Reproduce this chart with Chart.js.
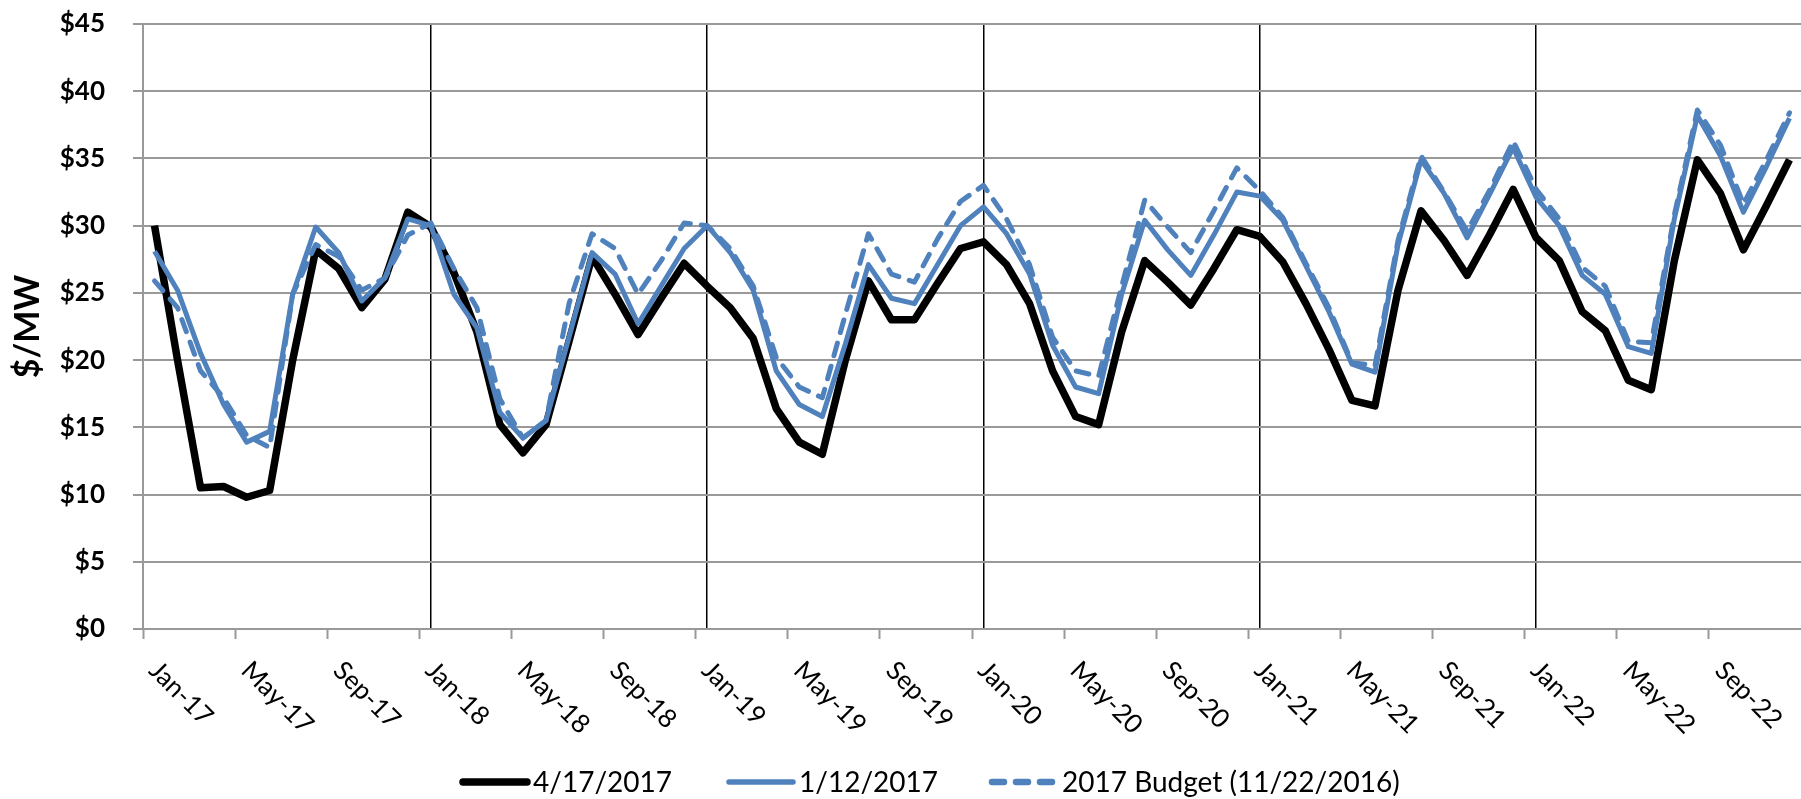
<!DOCTYPE html>
<html>
<head>
<meta charset="utf-8">
<script src="https://cdn.jsdelivr.net/npm/chart.js@4/dist/chart.umd.min.js"></script>
<style>
html,body{margin:0;padding:0;background:#fff;overflow:hidden}
canvas{display:block}
</style>
</head>
<body>
<canvas id="c" width="1801" height="799"></canvas>
<script>
// ---- data ----
const monthNames = ['Jan','Feb','Mar','Apr','May','Jun','Jul','Aug','Sep','Oct','Nov','Dec'];
const yearLabels = ['17','18','19','20','21','22'];
const categories = [];
yearLabels.forEach(y => monthNames.forEach(m => categories.push(m + '-' + y)));
const labelEvery = 4;
const yTicks = [0,5,10,15,20,25,30,35,40,45];
const seriesNames = ['4/17/2017','1/12/2017','2017 Budget (11/22/2016)'];

const price_2017_04_17 = [
  30.0,20.0,10.5,10.6, 9.8,10.3,20.0,28.2,26.8,23.9,26.0,31.0,
  29.9,26.5,22.1,15.2,13.1,15.2,21.4,27.7,24.9,21.9,24.6,27.2,
  25.5,23.9,21.6,16.4,13.9,13.0,20.0,25.9,23.0,23.0,25.7,28.3,
  28.8,27.1,24.2,19.2,15.8,15.2,22.1,27.4,25.8,24.1,26.8,29.7,
  29.2,27.3,24.2,20.8,17.0,16.6,25.2,31.1,28.9,26.3,29.4,32.7,
  29.1,27.4,23.6,22.2,18.5,17.8,27.4,34.9,32.4,28.2,31.5,34.9
];
const price_2017_01_12 = [
  28.1,25.2,20.5,16.7,13.9,14.7,24.9,29.9,28.0,24.4,26.1,30.5,
  30.0,24.9,22.4,16.1,14.2,15.5,21.7,28.0,26.4,22.7,25.5,28.3,
  30.0,28.0,25.2,19.2,16.7,15.8,21.2,27.1,24.6,24.2,27.1,30.0,
  31.4,29.4,26.4,21.1,18.0,17.5,24.9,30.4,28.2,26.3,29.3,32.5,
  32.2,30.4,27.0,23.6,19.7,19.1,28.6,34.9,32.4,29.1,32.4,35.8,
  32.1,30.0,26.3,24.9,21.0,20.5,30.5,38.2,35.2,31.0,34.4,38.0
];
const price_budget_2016_11_22 = [
  25.9,23.9,19.2,17.2,14.4,13.5,24.9,28.6,27.7,25.2,26.1,29.3,
  30.2,26.8,23.9,17.1,14.2,15.5,24.2,29.4,28.3,24.9,27.4,30.2,
  30.0,28.3,25.5,20.2,18.0,17.2,23.4,29.4,26.4,25.8,29.0,31.8,
  33.0,30.5,27.1,21.7,19.2,18.8,25.5,31.9,29.9,28.0,31.1,34.3,
  32.6,30.6,27.2,23.9,19.8,19.6,28.9,35.2,32.5,29.6,32.7,36.3,
  32.7,30.5,26.9,25.5,21.4,21.3,30.8,38.6,36.0,31.6,34.9,38.4
];

// ---- styles ----
const FONT = 'Lato';
const BLACK = '#000000';
const BLUE = '#4F81BD';
const GRID = '#999999';

const legendPos = [460, 726, 989];
const legendWidths = [7.5, 5.5, 6.5];

const xLabelPlugin = {
  id: 'xLabels',
  afterDraw(chart) {
    const xs = chart.scales.x;
    const ctx = chart.ctx;
    ctx.save();
    ctx.font = '26px ' + FONT;
    ctx.fillStyle = '#000';
    ctx.textAlign = 'left';
    ctx.textBaseline = 'middle';
    categories.forEach((lab, i) => {
      if (i % labelEvery !== 0) return;
      const px = xs.getPixelForValue(i);
      ctx.save();
      ctx.translate(px - 1, xs.top + 37);
      ctx.rotate(Math.PI / 4);
      ctx.fillText(lab, 0, 0);
      ctx.restore();
    });
    ctx.restore();
  }
};

const legendPlugin = {
  id: 'bottomLegend',
  afterDraw(chart) {
    const ctx = chart.ctx;
    const y = 782;
    chart.data.datasets.forEach((ds, i) => {
      const x0 = legendPos[i];
      ctx.save();
      ctx.strokeStyle = ds.borderColor;
      ctx.lineWidth = legendWidths[i];
      ctx.lineCap = 'round';
      ctx.setLineDash(ds.borderDash && ds.borderDash.length ? [12, 12] : []);
      ctx.beginPath();
      ctx.moveTo(x0 + 3, y);
      ctx.lineTo(x0 + 67, y);
      ctx.stroke();
      ctx.setLineDash([]);
      ctx.font = '28px ' + FONT;
      ctx.fillStyle = '#000';
      ctx.textAlign = 'left';
      ctx.textBaseline = 'alphabetic';
      ctx.fillText(ds.label, x0 + 73, 792);
      ctx.restore();
    });
  }
};

new Chart(document.getElementById('c'), {
  type: 'line',
  data: {
    labels: categories,
    datasets: [
      { label: seriesNames[0], data: price_2017_04_17, borderColor: BLACK, backgroundColor: BLACK,
        borderWidth: 7.5, order: 3 },
      { label: seriesNames[1], data: price_2017_01_12, borderColor: BLUE, backgroundColor: BLUE,
        borderWidth: 5, order: 2 },
      { label: seriesNames[2], data: price_budget_2016_11_22, borderColor: BLUE, backgroundColor: BLUE,
        borderWidth: 5, borderDash: [13, 11], borderCapStyle: 'round', order: 1 }
    ]
  },
  options: {
    responsive: false,
    animation: false,
    devicePixelRatio: 1,
    layout: { padding: { top: 24, left: 0, right: 0, bottom: 0 } },
    elements: {
      point: { radius: 0, hoverRadius: 0 },
      line: { tension: 0, borderJoinStyle: 'round', fill: false }
    },
    plugins: { legend: { display: false }, tooltip: { enabled: false } },
    scales: {
      x: {
        type: 'category',
        offset: true,
        grid: {
          offset: true,
          drawOnChartArea: false,
          drawTicks: true,
          tickLength: 10,
          tickWidth: 2,
          tickColor: c => (c.index % labelEvery === 0 ? GRID : 'rgba(0,0,0,0)')
        },
        border: { display: true, color: GRID, width: 2 },
        ticks: { display: false, autoSkip: false },
        afterFit: s => { s.height = 170; s.paddingLeft = 0; s.paddingRight = 0; }
      },
      x2: {
        type: 'category',
        labels: categories,
        offset: true,
        position: 'bottom',
        grid: {
          offset: false,
          drawTicks: false,
          lineWidth: 1.5,
          color: c => (c.index % 12 === 0 && c.index > 0 ? '#000' : 'rgba(0,0,0,0)')
        },
        border: { display: false },
        ticks: { display: false, autoSkip: false },
        afterFit: s => { s.height = 0; s.paddingLeft = 0; s.paddingRight = 0; }
      },
      y: {
        min: yTicks[0],
        max: yTicks[yTicks.length - 1],
        afterBuildTicks: s => { s.ticks = yTicks.map(v => ({ value: v })); },
        ticks: {
          callback: v => '$' + v,
          font: { family: FONT, weight: 'bold', size: 26 },
          color: '#000',
          padding: 28
        },
        grid: { color: GRID, lineWidth: 2, tickLength: 10 },
        border: { color: GRID, width: 2 },
        title: {
          display: true,
          text: '$/MW',
          font: { family: FONT, weight: 'bold', size: 34 },
          color: '#000',
          padding: { top: 8, bottom: 0 }
        },
        afterFit: s => { s.width = 143; s.paddingTop = 0; s.paddingBottom = 0; }
      }
    }
  },
  plugins: [xLabelPlugin, legendPlugin]
});
</script>
</body>
</html>
